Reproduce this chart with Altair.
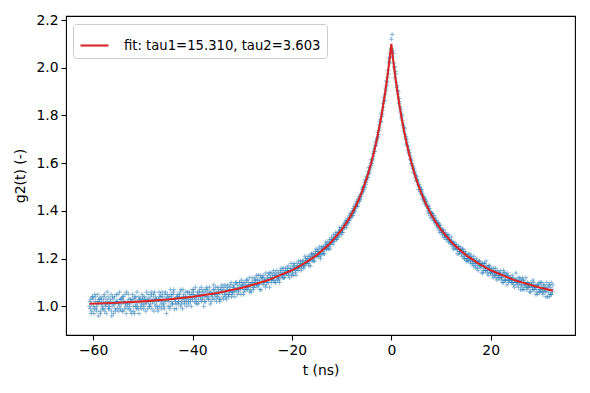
import altair as alt
import pandas as pd

# measured data: g2(t), three interleaved passes, each sampled every 0.25 ns
T_START = -60.75
T_STEP = 0.25
g2_a = [
    1.00, 1.03, 0.98,
    1.03, 0.99, 1.04, 0.98, 1.01, 1.02, 0.97, 1.03, 0.99, 1.05, 1.00, 1.01,
    1.04, 0.99, 1.02, 0.96, 1.03, 1.01, 0.98, 1.02, 1.05, 1.00, 0.99, 1.03,
    0.98, 1.02, 1.01, 1.06, 0.99, 1.00, 1.03, 0.97, 1.02, 1.04, 1.00, 0.99,
    1.02, 0.97, 1.03, 1.01,
    1.04, 1.00, 1.02, 1.06, 0.99, 1.03, 1.01, 1.05, 1.02, 0.98, 1.04, 1.03,
    1.00, 1.06, 1.02, 0.99, 1.04, 1.01, 1.03, 0.97, 1.05, 1.02, 1.00, 1.04,
    1.01, 1.07, 1.03, 0.99, 1.04, 1.02, 1.06, 1.01, 0.99, 1.05, 1.03, 1.02,
    1.06, 1.01, 1.04, 1.00,
    1.03, 1.07, 1.04, 1.01, 1.06, 1.02, 1.05, 1.08, 1.03, 1.00, 1.06, 1.04,
    1.07, 1.03, 1.05, 1.02, 1.05, 1.09, 1.03, 1.06, 1.04, 1.07, 1.02, 1.08,
    1.06, 1.03, 1.09, 1.05, 1.07, 1.04, 1.06, 1.10, 1.05, 1.08, 1.04, 1.07,
    1.09, 1.06, 1.10, 1.05,
    1.08, 1.05, 1.10, 1.07, 1.11, 1.08, 1.06, 1.09, 1.12, 1.07, 1.09, 1.11,
    1.08, 1.13, 1.10, 1.07, 1.12, 1.09, 1.11, 1.14, 1.10, 1.13, 1.08, 1.12,
    1.14, 1.11, 1.13, 1.10, 1.15, 1.12, 1.10, 1.14, 1.13, 1.16, 1.12, 1.15,
    1.14, 1.17, 1.12, 1.15,
    1.16, 1.13, 1.17, 1.15, 1.18, 1.15, 1.17, 1.19, 1.16, 1.19, 1.17, 1.20,
    1.18, 1.21, 1.19, 1.17, 1.22, 1.20, 1.19, 1.23, 1.21, 1.24, 1.22, 1.20,
    1.25, 1.23, 1.22, 1.26, 1.24, 1.27, 1.25, 1.26, 1.29, 1.26, 1.28, 1.30,
    1.28, 1.31, 1.30, 1.32,
    1.33, 1.31, 1.34, 1.35, 1.34, 1.37, 1.36, 1.39, 1.39, 1.38, 1.42, 1.41,
    1.44, 1.42, 1.46, 1.45, 1.47, 1.50, 1.49, 1.53,
    1.545, 1.540, 1.582, 1.580, 1.615, 1.618, 1.660, 1.672, 1.685, 1.730,
    1.738, 1.782, 1.810, 1.822, 1.875, 1.890, 1.945, 1.960, 2.025, 2.060,
    2.12,
    2.045, 2.020, 1.958, 1.940, 1.905, 1.850, 1.835, 1.790, 1.780, 1.735,
    1.722, 1.680, 1.675, 1.640, 1.632, 1.598, 1.592, 1.560, 1.558, 1.525,
    1.53, 1.49, 1.50, 1.47, 1.45, 1.46, 1.43, 1.44, 1.42, 1.39, 1.40, 1.37,
    1.39, 1.36, 1.35, 1.36, 1.33, 1.35, 1.31, 1.32,
    1.30, 1.32, 1.29, 1.28, 1.30, 1.27, 1.28, 1.26, 1.27, 1.24, 1.26, 1.25,
    1.22, 1.25, 1.23, 1.24, 1.21, 1.23, 1.20, 1.22, 1.19, 1.22, 1.20, 1.18,
    1.20, 1.17, 1.19, 1.16, 1.18, 1.15, 1.19, 1.17, 1.14, 1.17, 1.18, 1.15,
    1.16, 1.13, 1.17, 1.14,
    1.15, 1.12, 1.13, 1.16, 1.11, 1.14, 1.12, 1.15, 1.13, 1.10, 1.14, 1.11,
    1.09, 1.13, 1.11, 1.12, 1.10, 1.12, 1.08, 1.11, 1.09, 1.12, 1.10, 1.07,
    1.11, 1.08, 1.10, 1.09, 1.07, 1.10, 1.09, 1.06, 1.09, 1.11, 1.07, 1.08,
    1.06, 1.09, 1.10, 1.07,
    1.08, 1.05, 1.09, 1.06, 1.10, 1.07, 1.04, 1.08, 1.05, 1.09,
]
g2_b = [
    1.02, 0.97, 1.04,
    1.00, 1.05, 0.99, 1.02, 0.96, 1.03, 1.04, 1.00, 1.02, 0.98, 1.03, 1.06,
    0.99, 1.01, 1.05, 1.00, 0.97, 1.04, 1.02, 0.99, 1.01, 1.06, 1.03, 0.98,
    1.04, 0.99, 1.00, 1.02, 1.05, 1.01, 0.98, 1.03, 1.00, 0.97, 1.04, 1.06,
    0.99, 1.03, 1.00, 1.05,
    1.01, 1.03, 0.98, 1.02, 1.05, 1.00, 1.04, 0.99, 1.03, 1.06, 1.00, 1.02,
    0.98, 1.04, 1.05, 1.01, 1.02, 0.99, 1.06, 1.03, 1.00, 1.04, 1.07, 1.02,
    1.05, 0.99, 1.02, 1.04, 1.01, 1.05, 1.00, 1.03, 1.07, 1.02, 1.04, 1.00,
    1.03, 1.06, 1.02, 1.05,
    1.05, 1.02, 1.08, 1.03, 1.01, 1.06, 1.04, 1.02, 1.07, 1.04, 1.02, 1.08,
    1.04, 1.06, 1.01, 1.05, 1.03, 1.07, 1.05, 1.02, 1.08, 1.05, 1.03, 1.06,
    1.04, 1.08, 1.06, 1.03, 1.09, 1.05, 1.07, 1.04, 1.06, 1.09, 1.07, 1.10,
    1.05, 1.08, 1.07, 1.11,
    1.09, 1.06, 1.08, 1.11, 1.07, 1.10, 1.09, 1.06, 1.10, 1.08, 1.12, 1.09,
    1.11, 1.09, 1.07, 1.12, 1.10, 1.13, 1.11, 1.09, 1.12, 1.10, 1.14, 1.11,
    1.12, 1.15, 1.10, 1.13, 1.11, 1.14, 1.12, 1.16, 1.15, 1.12, 1.14, 1.13,
    1.16, 1.13, 1.15, 1.18,
    1.14, 1.17, 1.16, 1.13, 1.16, 1.19, 1.17, 1.15, 1.18, 1.17, 1.21, 1.18,
    1.20, 1.18, 1.21, 1.20, 1.19, 1.22, 1.21, 1.24, 1.23, 1.21, 1.25, 1.22,
    1.22, 1.25, 1.24, 1.27, 1.26, 1.24, 1.28, 1.27, 1.27, 1.30, 1.28, 1.31,
    1.30, 1.29, 1.33, 1.31,
    1.31, 1.34, 1.33, 1.36, 1.36, 1.35, 1.38, 1.37, 1.38, 1.41, 1.40, 1.43,
    1.42, 1.45, 1.44, 1.47, 1.49, 1.48, 1.52, 1.51,
    1.530, 1.565, 1.560, 1.600, 1.598, 1.640, 1.650, 1.690, 1.705, 1.710,
    1.760, 1.772, 1.795, 1.850, 1.860, 1.915, 1.925, 1.990, 2.040, 2.045,
    2.08,
    2.070, 2.000, 1.985, 1.918, 1.890, 1.872, 1.815, 1.805, 1.758, 1.750,
    1.705, 1.700, 1.655, 1.655, 1.615, 1.612, 1.578, 1.575, 1.540, 1.545,
    1.51, 1.51, 1.48, 1.49, 1.47, 1.44, 1.45, 1.42, 1.40, 1.42, 1.38, 1.39,
    1.37, 1.38, 1.36, 1.34, 1.35, 1.32, 1.34, 1.31,
    1.32, 1.29, 1.31, 1.30, 1.28, 1.30, 1.27, 1.29, 1.25, 1.27, 1.24, 1.26,
    1.24, 1.22, 1.25, 1.22, 1.24, 1.21, 1.22, 1.20, 1.21, 1.19, 1.22, 1.21,
    1.18, 1.21, 1.17, 1.20, 1.16, 1.19, 1.18, 1.16, 1.18, 1.15, 1.16, 1.19,
    1.14, 1.17, 1.15, 1.16,
    1.13, 1.16, 1.14, 1.12, 1.15, 1.12, 1.14, 1.11, 1.12, 1.15, 1.11, 1.13,
    1.14, 1.10, 1.12, 1.10, 1.13, 1.09, 1.11, 1.14, 1.10, 1.08, 1.12, 1.09,
    1.07, 1.11, 1.09, 1.12, 1.10, 1.08, 1.06, 1.10, 1.07, 1.10, 1.08, 1.05,
    1.09, 1.07, 1.06, 1.10,
    1.06, 1.09, 1.07, 1.04, 1.08, 1.06, 1.09, 1.05, 1.07,
]
g2_c = [
    0.99, 1.01, 1.04,
    0.97, 1.02, 1.00, 1.05, 1.03, 0.98, 1.01, 0.99, 1.04, 1.01, 0.97, 1.02,
    1.00, 1.03, 0.98, 1.04, 1.01, 0.99, 1.05, 1.02, 0.98, 1.03, 1.01, 1.04,
    1.02, 1.05, 0.97, 1.01, 1.03, 0.99, 1.02, 1.05, 0.98, 1.03, 1.01, 1.00,
    1.04, 1.02, 0.99, 1.03,
    0.99, 1.04, 1.01, 1.03, 1.02, 1.00, 1.06, 1.02, 1.05, 1.01, 1.03, 0.99,
    1.03, 1.00, 1.04, 1.06, 1.00, 1.05, 1.02, 1.04, 1.03, 0.99, 1.05, 1.01,
    1.06, 1.03, 1.01, 1.05, 1.02, 1.04, 1.07, 1.02, 1.04, 1.01, 1.06, 1.04,
    1.02, 1.05, 1.03, 1.07,
    1.06, 1.04, 1.02, 1.05, 1.04, 1.07, 1.03, 1.06, 1.05, 1.02, 1.07, 1.05,
    1.03, 1.08, 1.06, 1.04, 1.07, 1.05, 1.08, 1.04, 1.06, 1.03, 1.07, 1.09,
    1.07, 1.05, 1.04, 1.08, 1.05, 1.08, 1.09, 1.06, 1.08, 1.06, 1.10, 1.07,
    1.07, 1.10, 1.08, 1.09,
    1.10, 1.07, 1.09, 1.08, 1.09, 1.12, 1.07, 1.10, 1.08, 1.11, 1.10, 1.13,
    1.09, 1.11, 1.13, 1.10, 1.12, 1.10, 1.08, 1.11, 1.11, 1.14, 1.12, 1.10,
    1.13, 1.11, 1.14, 1.12, 1.13, 1.11, 1.15, 1.13, 1.12, 1.14, 1.16, 1.14,
    1.15, 1.14, 1.16, 1.13,
    1.15, 1.18, 1.14, 1.16, 1.17, 1.16, 1.18, 1.17, 1.19, 1.16, 1.18, 1.19,
    1.19, 1.17, 1.20, 1.22, 1.21, 1.19, 1.22, 1.21, 1.22, 1.23, 1.21, 1.24,
    1.24, 1.22, 1.25, 1.24, 1.25, 1.26, 1.24, 1.28, 1.28, 1.27, 1.29, 1.28,
    1.29, 1.31, 1.32, 1.30,
    1.32, 1.33, 1.35, 1.33, 1.35, 1.36, 1.37, 1.38, 1.40, 1.39, 1.40, 1.42,
    1.43, 1.44, 1.45, 1.46, 1.48, 1.50, 1.50, 1.52,
    1.540, 1.555, 1.572, 1.590, 1.610, 1.630, 1.648, 1.675, 1.698, 1.720,
    1.748, 1.775, 1.805, 1.835, 1.865, 1.905, 1.940, 1.975, 2.020, 2.075,
    2.14,
    2.060, 2.005, 1.975, 1.925, 1.900, 1.858, 1.826, 1.798, 1.765, 1.745,
    1.712, 1.688, 1.668, 1.645, 1.622, 1.600, 1.585, 1.566, 1.548, 1.530,
    1.52, 1.50, 1.49, 1.48, 1.46, 1.45, 1.44, 1.43, 1.41, 1.41, 1.39, 1.39,
    1.38, 1.36, 1.37, 1.35, 1.34, 1.34, 1.33, 1.32,
    1.31, 1.30, 1.30, 1.29, 1.29, 1.28, 1.27, 1.27, 1.26, 1.26, 1.25, 1.24,
    1.25, 1.23, 1.23, 1.23, 1.24, 1.20, 1.23, 1.19, 1.20, 1.21, 1.19, 1.20,
    1.19, 1.19, 1.18, 1.19, 1.18, 1.17, 1.17, 1.18, 1.14, 1.18, 1.15, 1.17,
    1.15, 1.16, 1.14, 1.15,
    1.14, 1.15, 1.13, 1.14, 1.13, 1.14, 1.13, 1.12, 1.10, 1.14, 1.11, 1.13,
    1.11, 1.12, 1.11, 1.11, 1.10, 1.11, 1.10, 1.11, 1.10, 1.10, 1.11, 1.09,
    1.12, 1.07, 1.10, 1.08, 1.08, 1.09, 1.08, 1.09, 1.08, 1.07, 1.09, 1.08,
    1.05, 1.09, 1.06, 1.10,
    1.07, 1.06, 1.08, 1.07, 1.04, 1.09, 1.05, 1.10, 1.06,
]
pass_offsets = [0.0, 0.083, 0.167]

# fitted curve
fit_t = [-60.75, -55, -50, -45, -40, -35, -30, -25, -20, -17.5, -15, -12.5,
         -10, -9, -8, -7, -6, -5, -4.5, -4, -3.5, -3, -2.5, -2, -1.75, -1.5,
         -1.25, -1, -0.75, -0.5, -0.25, 0, 0.25, 0.5, 0.75, 1, 1.25, 1.5,
         1.75, 2, 2.5, 3, 3.5, 4, 4.5, 5, 6, 7, 8, 9, 10, 12.5, 15, 17.5,
         20, 25, 30, 32.5]
fit_g2 = [1.011, 1.015, 1.021, 1.029, 1.040, 1.056, 1.078, 1.108, 1.151,
          1.180, 1.215, 1.260, 1.321, 1.351, 1.386, 1.427, 1.476, 1.534,
          1.568, 1.605, 1.646, 1.691, 1.742, 1.798, 1.829, 1.861, 1.896,
          1.932, 1.970, 2.011, 2.054, 2.100, 2.054, 2.011, 1.970, 1.932,
          1.896, 1.861, 1.829, 1.798, 1.742, 1.691, 1.646, 1.605, 1.568,
          1.534, 1.476, 1.427, 1.386, 1.351, 1.321, 1.260, 1.215, 1.180,
          1.151, 1.108, 1.078, 1.066]
fit_label = "fit: tau1=15.310, tau2=3.603"

x_ticks = [-60, -40, -20, 0, 20]
y_ticks = [1.0, 1.2, 1.4, 1.6, 1.8, 2.0, 2.2]

rows = []
for off, vals in zip(pass_offsets, [g2_a, g2_b, g2_c]):
    for i, v in enumerate(vals):
        rows.append({"t": T_START + off + T_STEP * i, "g2": v})
df_pts = pd.DataFrame(rows)
df_fit = pd.DataFrame({"t": fit_t, "g2": fit_g2, "label": [fit_label] * len(fit_t)})

FONT = "DejaVu Sans"
xscale = alt.Scale(domain=[-65.46, 36.96], nice=False, zero=False)
yscale = alt.Scale(domain=[0.880, 2.217], nice=False, zero=False)
xaxis = alt.Axis(values=x_ticks, format="d", title="t (ns)", grid=False)
yaxis = alt.Axis(values=y_ticks, format=".1f", title="g2(t) (-)", grid=False)

points = alt.Chart(df_pts).mark_point(
    shape="M-1,0L1,0M0,-1L0,1", filled=False, size=20, strokeWidth=0.9,
    color="#1f77b4", opacity=0.6,
).encode(
    x=alt.X("t:Q", scale=xscale, axis=xaxis),
    y=alt.Y("g2:Q", scale=yscale, axis=yaxis),
)

line = alt.Chart(df_fit).mark_line(strokeWidth=2.1).encode(
    x=alt.X("t:Q", scale=xscale),
    y=alt.Y("g2:Q", scale=yscale),
    color=alt.Color(
        "label:N",
        scale=alt.Scale(range=["#d62728"]),
        legend=alt.Legend(
            title=None, orient="none", legendX=7, legendY=8,
            symbolType="stroke", symbolSize=784, symbolStrokeWidth=2.1,
            labelFont=FONT, labelFontSize=13.2, labelColor="black",
            labelOffset=14, labelLimit=500, padding=6, strokeColor="#cccccc",
            fillColor="white", cornerRadius=3,
        ),
    ),
)

chart = alt.layer(points, line).properties(
    width=509, height=319,
    autosize=alt.AutoSizeParams(type="none"),
    padding={"left": 58, "top": 8, "right": 7, "bottom": 50},
).configure_view(
    stroke="black", strokeWidth=1.1,
).configure_axis(
    domain=False, tickColor="black", tickWidth=1.1, tickSize=5,
    labelFont=FONT, labelFontSize=13.9, labelColor="black", labelPadding=3,
    titleFont=FONT, titleFontSize=13.9, titleFontWeight="normal",
    titleColor="black",
).configure_axisX(titlePadding=7).configure_axisY(titlePadding=8)

chart.save("out.html", embed_options={"renderer": "svg", "actions": False})
